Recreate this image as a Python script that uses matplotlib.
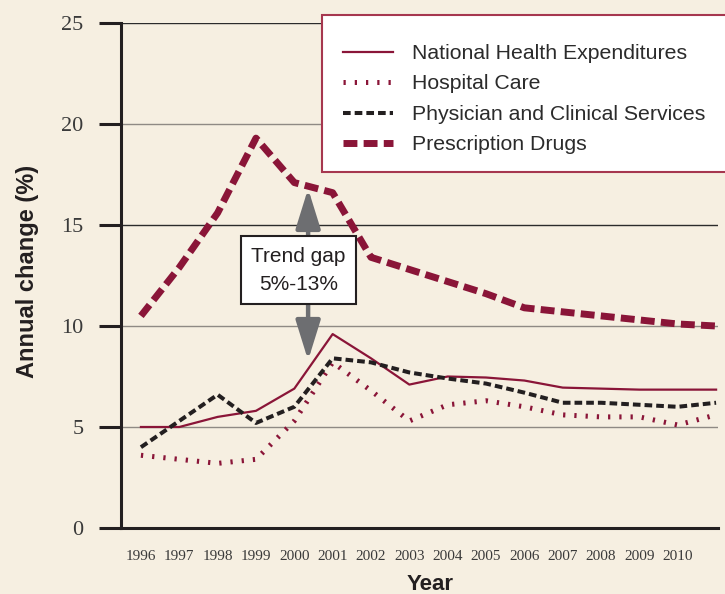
import matplotlib
matplotlib.use("Agg")
import matplotlib.pyplot as plt
from matplotlib.patches import Rectangle

# Annual change (%) by year
years = list(range(1996, 2012))
national_health = [5.0, 5.0, 5.5, 5.8, 6.9, 9.6, 8.4, 7.1, 7.5, 7.45, 7.3, 6.95, 6.9, 6.85, 6.85, 6.85]
hospital_care = [3.6, 3.4, 3.2, 3.4, 5.3, 8.2, 6.8, 5.3, 6.1, 6.3, 6.0, 5.6, 5.5, 5.5, 5.1, 5.6]
physician = [4.0, 5.3, 6.6, 5.2, 6.0, 8.4, 8.2, 7.7, 7.4, 7.15, 6.7, 6.2, 6.2, 6.1, 6.0, 6.2]
prescription = [10.5, 12.9, 15.6, 19.3, 17.1, 16.6, 13.4, 12.8, 12.2, 11.6, 10.9, 10.7, 10.5, 10.3, 10.1, 10.0]

year_labels = [str(y) for y in range(1996, 2011)]
y_ticks = [0, 5, 10, 15, 20, 25]

series_names = ["National Health Expenditures", "Hospital Care",
                "Physician and Clinical Services", "Prescription Drugs"]

BG = "#f6efe1"
MAROON = "#8a1538"
BLACK = "#231f20"
GRAY_ARROW = "#6d6e71"

fig = plt.figure(figsize=(7.25, 5.94), dpi=100, facecolor=BG)
ax = fig.add_axes([121 / 725, 1 - 528 / 594, 597 / 725, 505 / 594])
ax.set_facecolor(BG)

# horizontal grid lines
grid_colors = {5: "#8f8a84", 10: "#8f8a84", 15: "#2b2b2b", 20: "#8f8a84", 25: "#2b2b2b"}
for val, col in grid_colors.items():
    ax.axhline(val, color=col, lw=1.0, zorder=1)

ax.plot(years, national_health, color=MAROON, lw=1.6, label=series_names[0], zorder=3)
ax.plot(years, hospital_care, color=MAROON, lw=3.6, linestyle=(0, (0.45, 1.8)),
        label=series_names[1], zorder=3)
ax.plot(years, physician, color=BLACK, lw=2.9, linestyle=(0, (1.9, 1.0)),
        label=series_names[2], zorder=3)
ax.plot(years, prescription, color=MAROON, lw=5.0, linestyle=(0, (2.0, 0.9)),
        label=series_names[3], zorder=3)

ax.set_xlim(1995.48, 2011.05)
ax.set_ylim(0, 25)

for side in ["top", "right"]:
    ax.spines[side].set_visible(False)
ax.spines["left"].set_color(BLACK)
ax.spines["left"].set_linewidth(2.2)
ax.spines["bottom"].set_color(BLACK)
ax.spines["bottom"].set_linewidth(2.2)
ax.spines["bottom"].set_zorder(4)

ax.set_yticks(y_ticks)
ax.set_yticklabels([str(v) for v in y_ticks], fontfamily="Liberation Serif",
                   fontsize=16, color="#3a3a3a")
ax.tick_params(axis="y", length=16, width=2.2, color=BLACK, pad=11)
ax.set_xticks(list(range(1996, 2011)))
ax.set_xticklabels(year_labels, fontfamily="Liberation Serif", fontsize=11, color="#3a3a3a")
ax.tick_params(axis="x", length=0, pad=16)

fig.text(28 / 725, 1 - 271 / 594, "Annual change (%)", rotation=90, ha="center", va="center",
         fontfamily="Liberation Sans", fontweight="bold", fontsize=17, color="#231f20")
fig.text(430 / 725, 1 - 590 / 594, "Year", ha="center", va="baseline",
         fontfamily="Liberation Sans", fontweight="bold", fontsize=16, color="#231f20")

# trend gap annotation
arrow_x = 2000.36
box_x, box_y = 2000.11, 12.77
for tip in (16.8, 8.3):
    ax.annotate("", xy=(arrow_x, tip), xytext=(arrow_x, box_y),
                arrowprops=dict(arrowstyle="-|>,head_width=0.42,head_length=1.35", lw=3.2,
                                color=GRAY_ARROW, shrinkA=0, shrinkB=0, mutation_scale=18),
                zorder=5)
ax.text(box_x, box_y, "Trend gap\n5%-13%", ha="center", va="center",
        fontfamily="Liberation Sans", fontsize=15, color="#231f20", linespacing=1.6,
        bbox=dict(boxstyle="square,pad=0.5", facecolor="white", edgecolor=BLACK, lw=1.5),
        zorder=6)

# legend box drawn separately so it can run off the right edge
ax.add_patch(Rectangle((322 / 725, 1 - 172 / 594), 420 / 725, 157 / 594,
                       transform=fig.transFigure, facecolor="white", clip_on=False,
                       edgecolor="#a6374f", lw=1.5, zorder=6))
leg = ax.legend(loc="upper left", bbox_to_anchor=(343 / 725, 1 - 44 / 594),
                bbox_transform=fig.transFigure, borderaxespad=0, borderpad=0,
                prop={"family": "Liberation Sans", "size": 15.3},
                handlelength=2.35, handletextpad=0.9, labelspacing=0.54,
                frameon=False)
leg.set_zorder(7)
for t in leg.get_texts():
    t.set_color("#2b2b2b")

fig.savefig("out.png", dpi=100, facecolor=BG)
